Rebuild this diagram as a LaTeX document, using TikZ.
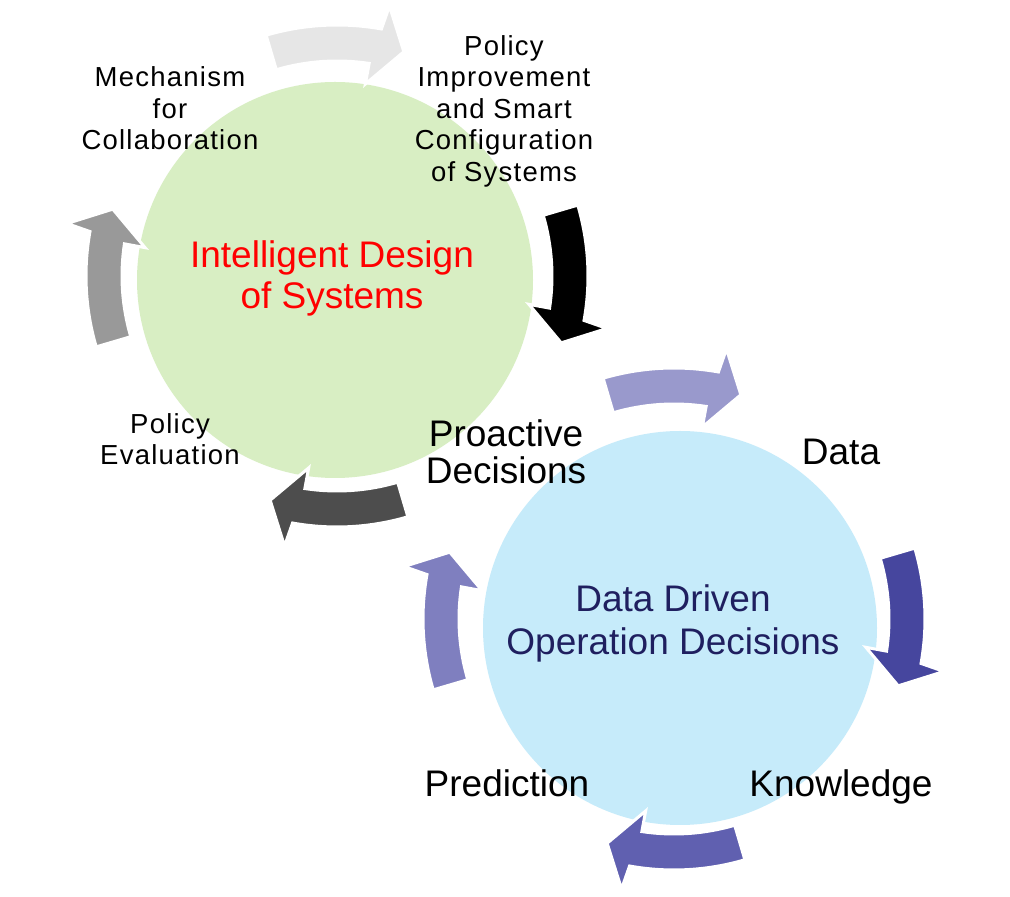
\documentclass[tikz,border=0pt]{standalone}
\usepackage{fontspec}
\setmainfont{Liberation Sans}
\usetikzlibrary{calc}
\definecolor{cgreen}{HTML}{D8EEC3}
\definecolor{cblue}{HTML}{C6EBFA}
\definecolor{gA}{HTML}{E6E6E6}
\definecolor{gB}{HTML}{000000}
\definecolor{gC}{HTML}{4D4D4D}
\definecolor{gD}{HTML}{999999}
\definecolor{bA}{HTML}{9999CC}
\definecolor{bB}{HTML}{46469E}
\definecolor{bC}{HTML}{6060B0}
\definecolor{bD}{HTML}{7F7FBF}
\definecolor{navy}{HTML}{1F1F5F}
\newcommand\cyclearrow[3]{%
  \path[cyc,fill=#3] ($(#1)+({#2+16.4}:251)$)
    arc[start angle={#2+16.4}, end angle={#2-10.2}, radius=251]
    -- ($(#1)+({#2-11}:275)$)
    -- ($(#1)+({#2-16.6}:234)$)
    -- ($(#1)+({#2-8.4}:194)$)
    -- ($(#1)+({#2-8.6}:215)$)
    arc[start angle={#2-8.6}, end angle={#2+16.4}, radius=215]
    -- cycle;}
\tikzset{
  cyc/.style={draw=white, line width=3pt, line join=miter},
  disc/.style={circle, inner sep=0pt, minimum size=#1},
  small/.style={font=\fontsize{27.5}{31.5}\selectfont\addfontfeatures{LetterSpace=4.5}, align=center, inner sep=0pt},
  big/.style={font=\fontsize{37}{41}\selectfont, align=center, inner sep=0pt},
}
\begin{document}
\begin{tikzpicture}[x=1pt,y=1pt]
\useasboundingbox[fill=white] (0,0) rectangle (1010,897);
% circles
\node[disc=396, fill=cgreen] (green) at (335,617) {};
\node[disc=394, fill=cblue] (blue) at (680,269) {};
% ring centres
\coordinate (gring) at (337,621);
\coordinate (bring) at (674,278);
% green cycle arrows
\cyclearrow{gring}{90}{gA}
\cyclearrow{gring}{0}{gB}
\cyclearrow{gring}{270}{gC}
\cyclearrow{gring}{180}{gD}
% blue cycle arrows
\cyclearrow{bring}{90}{bA}
\cyclearrow{bring}{0}{bB}
\cyclearrow{bring}{270}{bC}
\cyclearrow{bring}{180}{bD}
% texts
\node[small] (mech) at (170,788.7) {Mechanism\\for\\Collaboration};
\node[small] (impr) at (504,785.8) {Policy\\Improvement\\and Smart\\Configuration\\of Systems};
\node[small] (eval) at (170,457.6) {Policy\\Evaluation};
\node[big, text=red] (ids) at (332,618.9) {Intelligent Design\\of Systems};
\node[big, font=\fontsize{37}{37}\selectfont] (pro) at (506,445) {Proactive\\Decisions};
\node[big, anchor=base] (data) at (841,432) {Data};
\node[big, anchor=base] (know) at (841,100) {Knowledge};
\node[big, anchor=base] (pred) at (507,100) {Prediction};
\node[big, text=navy, font=\fontsize{37}{43}\selectfont] (dd) at (673,274) {Data Driven\\Operation Decisions};
\end{tikzpicture}
\end{document}
